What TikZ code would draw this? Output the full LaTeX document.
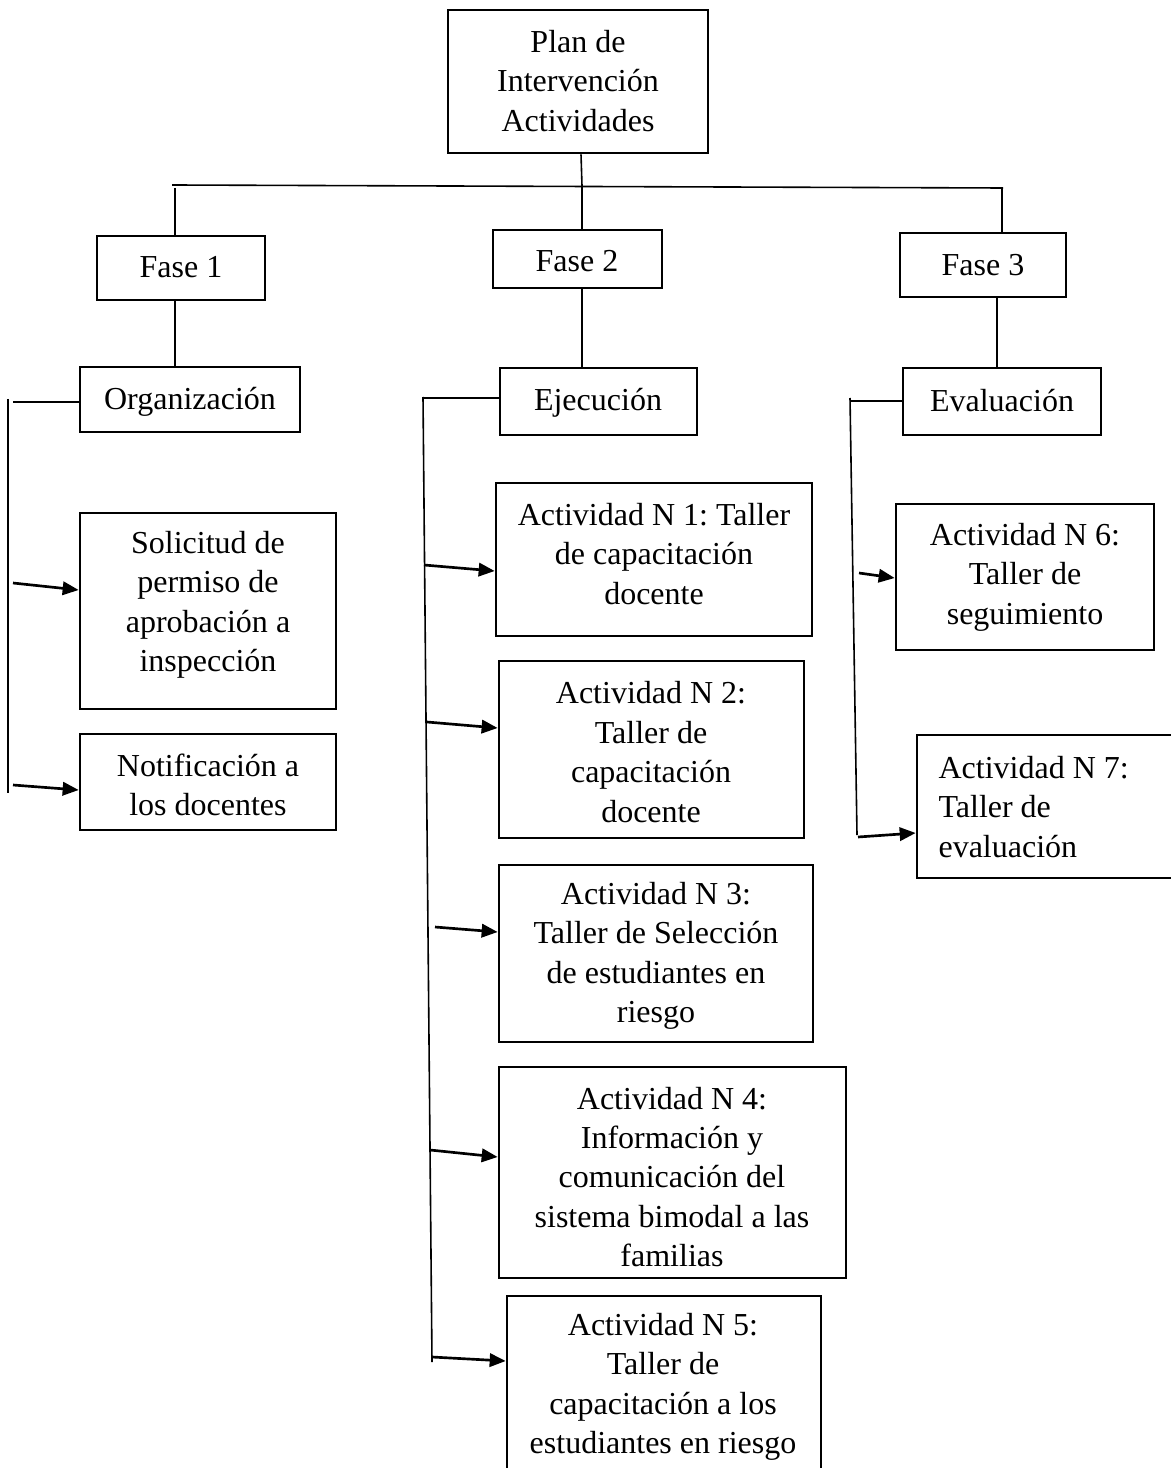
\documentclass[tikz,border=0pt]{standalone}
\usepackage{fontspec}
\setmainfont{Liberation Serif}
\usetikzlibrary{arrows.meta}
\frenchspacing
\begin{document}
\begin{tikzpicture}[x=0.375pt,y=-0.375pt,
  box/.style={draw,line width=1pt,inner sep=0pt},
  txt/.style={align=center,inner sep=0pt,font=\fontsize{12}{14.8}\selectfont},
  ln/.style={line width=0.6pt},
  arr/.style={line width=1pt,-{Triangle[length=6pt,width=5pt]}}]
\useasboundingbox (0,0) rectangle (1170,1468);
% boxes
\node[box,minimum width=97.5pt,minimum height=53.6pt] (plan) at (578,81.5) {};
\node[box,minimum width=63pt,minimum height=24pt] (f1) at (181,268) {};
\node[box,minimum width=63.4pt,minimum height=21.75pt] (f2) at (577.5,259) {};
\node[box,minimum width=62.25pt,minimum height=24pt] (f3) at (983,265) {};
\node[box,minimum width=82.5pt,minimum height=24.4pt] (org) at (190,399.5) {};
\node[box,minimum width=73.9pt,minimum height=25.1pt] (eje) at (598.5,401.5) {};
\node[box,minimum width=74.25pt,minimum height=25.1pt] (eva) at (1002,401.5) {};
\node[box,minimum width=96pt,minimum height=73.5pt] (sol) at (208,611) {};
\node[box,minimum width=96pt,minimum height=36pt] (not) at (208,782) {};
\node[box,minimum width=118.5pt,minimum height=57.4pt] (a1) at (654,559.5) {};
\node[box,minimum width=114.4pt,minimum height=66.4pt] (a2) at (651.5,749.5) {};
\node[box,minimum width=117.75pt,minimum height=66.4pt] (a3) at (656,953.5) {};
\node[box,minimum width=130.1pt,minimum height=79.1pt] (a4) at (672.5,1172.5) {};
\node[box,minimum width=117.75pt,minimum height=69pt] (a5) at (664,1388) {};
\node[box,minimum width=96.75pt,minimum height=54.75pt] (a6) at (1025,577) {};
\node[box,minimum width=100.5pt,minimum height=53.6pt] (a7) at (1051,806.5) {};
% texts
\node[txt] (plan-t) at (578,81) {Plan de\\Intervención\\Actividades};
\node[txt] (f1-t) at (181,267) {Fase 1};
\node[txt] (f2-t) at (577,261) {Fase 2};
\node[txt] (f3-t) at (983,265) {Fase 3};
\node[txt] (org-t) at (190,402) {Organización};
\node[txt] (eje-t) at (598,403) {Ejecución};
\node[txt] (eva-t) at (1002,401) {Evaluación};
\node[txt] (sol-t) at (208,605) {Solicitud de\\permiso de\\aprobación a\\inspección};
\node[txt] (not-t) at (208,785) {Notificación a\\los docentes};
\node[txt] (a1-t) at (654,554) {Actividad N 1: Taller\\de capacitación\\docente};
\node[txt] (a2-t) at (651,752) {Actividad N 2:\\Taller de\\capacitación\\docente};
\node[txt] (a3-t) at (656,956) {Actividad N 3:\\Taller de Selección\\de estudiantes en\\riesgo};
\node[txt] (a4-t) at (672,1177) {Actividad N 4:\\Información y\\comunicación del\\sistema bimodal a las\\familias};
\node[txt] (a5-t) at (663,1387) {Actividad N 5:\\Taller de\\capacitación a los\\estudiantes en riesgo};
\node[txt] (a6-t) at (1025,577) {Actividad N 6:\\Taller de\\seguimiento};
\node[txt,align=left,anchor=west] (a7-t) at (938,807) {Actividad N 7:\\Taller de\\evaluación};
% top tree
\coordinate (hm) at (582,186);
\coordinate (h1) at (172,185);
\coordinate (h3) at (1003,188);
\coordinate (d1) at (175,188);
\coordinate (d3) at (1002,188);
\coordinate (e3) at (997,297);
\draw[ln] (plan.south -| 581,0) -- (hm);
\draw[ln] (h1) -- (h3);
\draw[ln] (d1) -- (d1 |- f1.north);
\draw[ln] (hm) -- (hm |- f2.north);
\draw[ln] (d3) -- (d3 |- f3.north);
\draw[ln] (d1 |- f1.south) -- (d1 |- org.north);
\draw[ln] (hm |- f2.south) -- (hm |- eje.north);
\draw[ln] (e3 |- f3.south) -- (e3 |- eva.north);
% left bracket
\coordinate (l0) at (13,402);
\coordinate (lt) at (8,399);
\coordinate (lb) at (8,793);
\draw[ln] (l0) -- (org.west |- l0);
\draw[ln] (lt) -- (lb);
\coordinate (ls1) at (13,583);
\coordinate (ls2) at (13,785);
\draw[arr] (ls1) -- (sol.west |- 0,590);
\draw[arr] (ls2) -- (not.west |- 0,790);
% middle bracket
\coordinate (m0) at (424,398);
\coordinate (mt) at (423,397);
\coordinate (mb) at (432,1362);
\draw[ln] (m0) -- (eje.west |- m0);
\draw[ln] (mt) -- (mb);
\coordinate (ms1) at (424,565);
\coordinate (ms2) at (427,722);
\coordinate (ms3) at (435,927);
\coordinate (ms4) at (430,1150);
\coordinate (ms5) at (432,1357);
\draw[arr] (ms1) -- (a1.west |- 0,571);
\draw[arr] (ms2) -- (a2.west |- 0,728);
\draw[arr] (ms3) -- (a3.west |- 0,932);
\draw[arr] (ms4) -- (a4.west |- 0,1157);
\draw[arr] (ms5) -- (a5.west |- 0,1361);
% right bracket
\coordinate (r0) at (851,401);
\coordinate (rt) at (850,398);
\coordinate (rb) at (857,835);
\draw[ln] (r0) -- (eva.west |- r0);
\draw[ln] (rt) -- (rb);
\coordinate (rs1) at (859,573);
\coordinate (rs2) at (858,837);
\draw[arr] (rs1) -- (a6.west |- 0,578);
\draw[arr] (rs2) -- (a7.west |- 0,833);
\end{tikzpicture}
\end{document}
